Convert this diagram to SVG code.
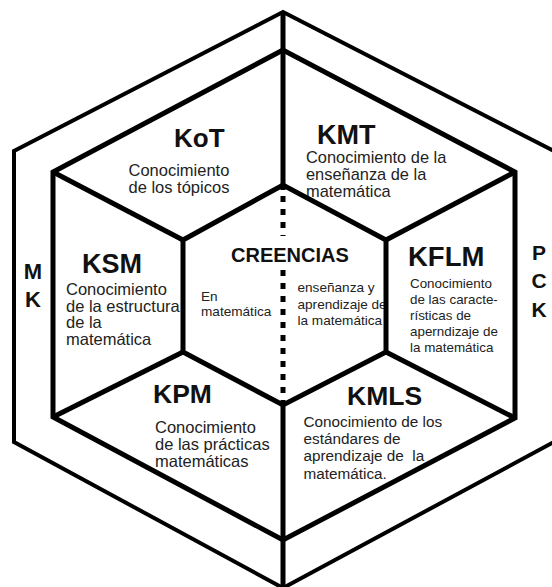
<svg xmlns="http://www.w3.org/2000/svg" width="552" height="587" viewBox="0 0 552 587">
<style>
.t{font-family:"Liberation Sans",Arial,sans-serif;font-weight:bold;fill:#111}
.d{font-family:"Liberation Sans",Arial,sans-serif;fill:#222}
.o{fill:none;stroke:#000;stroke-width:4;stroke-linejoin:miter}
.i{fill:none;stroke:#000;stroke-width:5;stroke-linejoin:miter}
</style>
<rect width="552" height="587" fill="#fff"/>
<g id="MK">
<text class="t" font-size="22" text-anchor="middle" x="33" y="279">M</text>
<text class="t" font-size="22" text-anchor="middle" x="33" y="307">K</text>
</g>
<g id="PCK">
<text class="t" font-size="21" text-anchor="middle" x="539" y="260">P</text>
<text class="t" font-size="21" text-anchor="middle" x="539" y="288">C</text>
<text class="t" font-size="21" text-anchor="middle" x="539" y="317">K</text>
</g>
<g id="KoT">
<text class="t" font-size="26" x="174" y="147">KoT</text>
<text class="d" font-size="16.5" x="128.5" y="176">Conocimiento</text>
<text class="d" font-size="16.5" x="128.5" y="193">de los tópicos</text>
</g>
<g id="KMT">
<text class="t" font-size="27" x="317" y="144">KMT</text>
<text class="d" font-size="16.4" x="306" y="163">Conocimiento de la</text>
<text class="d" font-size="16.4" x="306" y="180">enseñanza de la</text>
<text class="d" font-size="16.4" x="306" y="197">matemática</text>
</g>
<g id="KSM">
<text class="t" font-size="27" x="82" y="273">KSM</text>
<text class="d" font-size="16.5" x="66" y="295">Conocimiento</text>
<text class="d" font-size="16.5" x="66" y="311.7">de la estructura</text>
<text class="d" font-size="16.5" x="66" y="328.4">de la</text>
<text class="d" font-size="16.5" x="66" y="345">matemática</text>
</g>
<g id="CREENCIAS">
<text class="t" font-size="20" x="231" y="262">CREENCIAS</text>
<text class="d" font-size="13.6" x="201" y="301">En</text>
<text class="d" font-size="13.6" x="201" y="316">matemática</text>
<text class="d" font-size="13.6" x="297.5" y="292">enseñanza y</text>
<text class="d" font-size="13.6" x="297.5" y="308.5">aprendizaje de</text>
<text class="d" font-size="13.6" x="297.5" y="325">la matemática</text>
</g>
<g id="KFLM">
<text class="t" font-size="27.5" x="408" y="266">KFLM</text>
<text class="d" font-size="13.4" x="410" y="288">Conocimiento</text>
<text class="d" font-size="13.4" x="410" y="304">de las caracte-</text>
<text class="d" font-size="13.4" x="410" y="320">rísticas de</text>
<text class="d" font-size="13.4" x="410" y="336">aperndizaje de</text>
<text class="d" font-size="13.4" x="410" y="352">la matemática</text>
</g>
<g id="KPM">
<text class="t" font-size="26.5" x="153" y="403">KPM</text>
<text class="d" font-size="16.5" x="155" y="433">Conocimiento</text>
<text class="d" font-size="16.5" x="155" y="450">de las prácticas</text>
<text class="d" font-size="16.5" x="155" y="467">matemáticas</text>
</g>
<g id="KMLS">
<text class="t" font-size="26.5" x="347" y="405">KMLS</text>
<text class="d" font-size="15.3" x="303.5" y="427">Conocimiento de los</text>
<text class="d" font-size="15.3" x="303.5" y="444">estándares de</text>
<text class="d" font-size="15.3" x="303.5" y="461" xml:space="preserve">aprendizaje de  la</text>
<text class="d" font-size="15.3" x="303.5" y="478.5">matemática.</text>
</g>
<g id="connectors">
<polygon class="o" points="283,12 14,151 14,442 283,588 554,442 554,151"/>
<polygon class="i" points="283,50 53,172 53,417 283,540 515,418 515,172"/>
<polyline class="i" points="183,240 283,185 386,240 386,352 283,405 183,352 183,240"/>
<line class="i" x1="283" y1="12" x2="283" y2="190"/>
<line class="i" x1="283" y1="405" x2="283" y2="588"/>
<line class="i" x1="183" y1="240" x2="53" y2="172"/>
<line class="i" x1="386" y1="240" x2="515" y2="172"/>
<line class="i" x1="183" y1="352" x2="53" y2="417"/>
<line class="i" x1="386" y1="352" x2="515" y2="418"/>
<line x1="283" y1="196" x2="283" y2="236" stroke="#000" stroke-width="5" stroke-dasharray="6 7"/>
<line x1="283" y1="270" x2="283" y2="404" stroke="#000" stroke-width="5" stroke-dasharray="6 7"/>
</g>
</svg>
